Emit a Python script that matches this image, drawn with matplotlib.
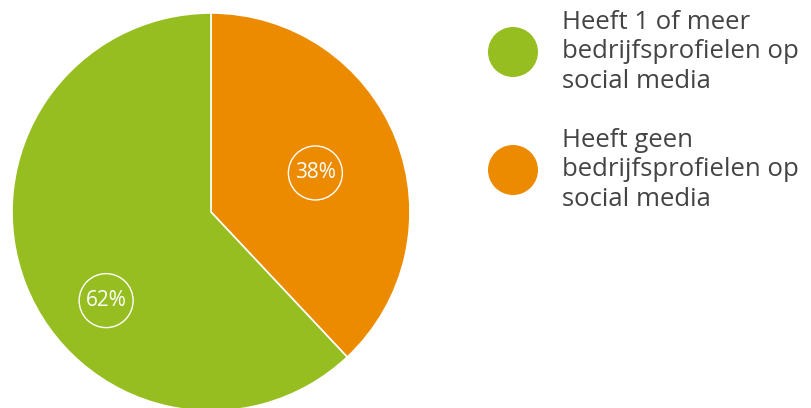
import matplotlib
matplotlib.use("Agg")
import numpy as np
import matplotlib.pyplot as plt
from matplotlib.patches import Circle

# data
labels = ["Heeft 1 of meer\nbedrijfsprofielen op\nsocial media",
          "Heeft geen\nbedrijfsprofielen op\nsocial media"]
shares = [62, 38]
colors = ["#96BE21", "#EC8B00"]

W, H = 811, 408
fig = plt.figure(figsize=(W / 100, H / 100), dpi=100)
ax = fig.add_axes([0, 0, 1, 1])

cx, cy, r = 211, H - 212, 199

# orange first, clockwise from 12 o'clock
wedges, _ = ax.pie(shares[::-1], colors=colors[::-1], startangle=90, counterclock=False,
                   center=(cx, cy), radius=r, frame=True,
                   wedgeprops=dict(edgecolor="white", linewidth=1.2))
ax.set_xlim(0, W)
ax.set_ylim(0, H)
ax.axis("off")

# label placement (angle in deg, distance as fraction of radius) per wedge
label_pos = [(20.5, 0.56), (-139.8, 0.69)]
for w, val, (ang, frac) in zip(wedges, shares[::-1], label_pos):
    x = cx + np.cos(np.radians(ang)) * r * frac
    y = cy + np.sin(np.radians(ang)) * r * frac
    ax.add_patch(Circle((x, y), 27, facecolor="none", edgecolor="white", linewidth=1.0))
    ax.text(x, y, f"{val}%", color="white", fontsize=15, family="Open Sans",
            ha="center", va="center")

# legend
leg_x, text_x = 513, 562
leg_y = [H - 52, H - 170]
for lab, col, y in zip(labels, colors, leg_y):
    ax.add_patch(Circle((leg_x, y), 25, facecolor=col, edgecolor="none"))
    ax.text(text_x, y, lab, color="#444444", fontsize=18.5, family="Open Sans",
            ha="left", va="center", linespacing=1.25)

fig.savefig("out.png", dpi=100)
